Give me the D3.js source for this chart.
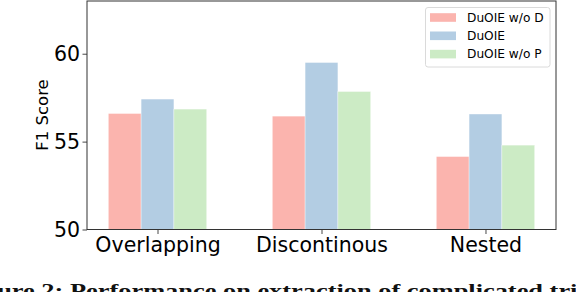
<!DOCTYPE html>
<html><head><meta charset="utf-8">
<script src="https://cdn.jsdelivr.net/npm/d3@7"></script>
<style>body{margin:0;background:#fff}svg{display:block}</style>
</head><body>
<svg id="c" width="576" height="292"></svg>
<script>
const categories = ["Overlapping", "Discontinous", "Nested"];
const seriesNames = ["DuOIE w/o D", "DuOIE", "DuOIE w/o P"];
const seriesColors = ["#fbb4ae", "#b3cde3", "#ccebc5"];
const valuesWoD = [56.6, 56.45, 54.15];
const valuesDuOIE = [57.42, 59.5, 56.57];
const valuesWoP = [56.85, 57.85, 54.8];
const yTicks = [50, 55, 60];
const yLabel = "F1 Score";
const caption = "Figure 2: Performance on extraction of complicated triples";

const series = [valuesWoD, valuesDuOIE, valuesWoP];
const svg = d3.select("#c");
const L = 87, R = 556, T = 1, B = 229.5;
const x = d3.scaleLinear().domain([-0.43, 2.43]).range([L, R]);
const y = d3.scaleLinear().domain([50, 63]).range([B, T]);
const bw = 0.2;
const font = "'DejaVu Sans', sans-serif";

// bars
series.forEach((vals, si) => {
  svg.append("g").selectAll("rect").data(vals).join("rect")
    .attr("x", (d, i) => x(i + (si - 1) * bw - bw / 2))
    .attr("width", x(bw) - x(0))
    .attr("y", d => y(d))
    .attr("height", d => y(50) - y(d))
    .attr("fill", seriesColors[si])
    .attr("stroke", "#fff").attr("stroke-opacity", 0.6).attr("stroke-width", 0.6);
});

// axes
const yAxis = d3.axisLeft(y).tickValues(yTicks).tickSize(4.5).tickPadding(2.5).tickFormat(d3.format("d"));
const gy = svg.append("g").attr("transform", `translate(${L},0)`).call(yAxis);
gy.select(".domain").remove();
gy.selectAll("text").attr("font-family", font).attr("font-size", 20.5).attr("fill", "#000");
gy.selectAll("line").attr("stroke", "#333").attr("stroke-width", 0.9);

const xAxis = d3.axisBottom(x).tickValues([0, 1, 2]).tickFormat(i => categories[i]).tickSize(4.5).tickPadding(3);
const gx = svg.append("g").attr("transform", `translate(0,${B})`).call(xAxis);
gx.select(".domain").remove();
gx.selectAll("text").attr("font-family", font).attr("font-size", 20.5).attr("fill", "#000");
gx.selectAll("line").attr("stroke", "#333").attr("stroke-width", 0.9);

// frame
svg.append("rect").attr("x", L).attr("y", T).attr("width", R - L).attr("height", B - T)
  .attr("fill", "none").attr("stroke", "#333").attr("stroke-width", 1);

// y label
svg.append("text").attr("transform", `translate(48,${(80 + 150) / 2}) rotate(-90)`)
  .attr("text-anchor", "middle").attr("font-family", font).attr("font-size", 16.5)
  .attr("fill", "#000").text(yLabel);

// legend
const lg = svg.append("g");
lg.append("rect").attr("x", 425.5).attr("y", 7.5).attr("width", 124.5).attr("height", 59.5)
  .attr("rx", 2.5).attr("fill", "#fff").attr("fill-opacity", 0.8)
  .attr("stroke", "#d6d6d6").attr("stroke-width", 0.9);
seriesNames.forEach((n, i) => {
  const cy = 17.5 + i * 18.3;
  lg.append("rect").attr("x", 430).attr("y", cy - 4.3).attr("width", 26).attr("height", 8.6)
    .attr("fill", seriesColors[i]);
  lg.append("text").attr("x", 467).attr("y", cy).attr("dy", "0.36em")
    .attr("font-family", font).attr("font-size", 12.2).attr("fill", "#000").text(n);
});

// caption (cut off)
const cap = svg.append("text").attr("font-family", "'Liberation Serif', serif")
  .attr("font-weight", "bold").attr("font-size", 19.5).attr("fill", "#111")
  .attr("x", 0).attr("y", 0).text(caption);
const node = cap.node();
const pIdx = caption.indexOf("Performance");
const tIdx = caption.indexOf("triples");
const pPos = node.getStartPositionOfChar(pIdx).x;
const tPos = node.getStartPositionOfChar(tIdx).x;
const sx = (550 - 70) / (tPos - pPos);
cap.attr("transform", `translate(${70 - pPos * sx},296.5) scale(${sx},1)`);
</script>
</body></html>
